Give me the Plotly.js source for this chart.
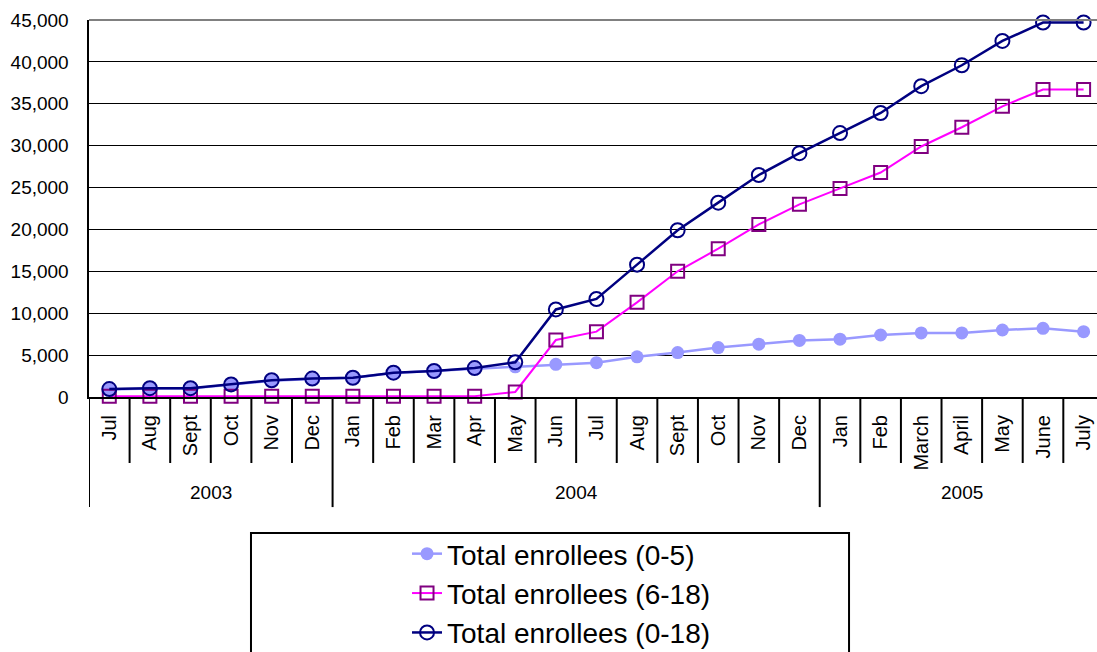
<!DOCTYPE html>
<html>
<head>
<meta charset="utf-8">
<script src="https://cdn.plot.ly/plotly-3.0.1.min.js"></script>
<style>html,body{margin:0;padding:0;background:#fff;}#chart{width:1097px;height:652px;}</style>
</head>
<body>
<div id="chart"></div>
<script>
const months = ['Jul','Aug','Sept','Oct','Nov','Dec','Jan','Feb','Mar','Apr','May','Jun','Jul','Aug','Sept','Oct','Nov','Dec','Jan','Feb','March','April','May','June','July'];
const yearLabels = ['2003','2004','2005'];
const yearCounts = [6, 12, 7];
const seriesNames = ['Total enrollees (0-5)','Total enrollees (6-18)','Total enrollees (0-18)'];
const enrollees0to5 = [900,1000,1000,1450,1950,2150,2300,2850,3100,3400,3600,3900,4100,4800,5300,5900,6300,6750,6900,7400,7650,7650,8000,8200,7800];
const enrollees6to18 = [100,100,100,100,100,100,100,100,100,100,600,6800,7800,11300,15000,17700,20600,23000,24900,26800,29900,32200,34700,36700,36700];
const enrollees0to18 = [950,1050,1050,1500,2000,2200,2300,2900,3100,3450,4150,10450,11700,15800,19900,23200,26500,29100,31500,33900,37100,39600,42500,44700,44700];

const xIdx = months.map((_, i) => i);
const FONT = 'Arial, "Liberation Sans", sans-serif';

const traces = [
  {x: xIdx, y: enrollees0to5, name: seriesNames[0], type: 'scatter', mode: 'lines+markers', cliponaxis: false,
   line: {color: '#9999FF', width: 2.5},
   marker: {symbol: 'circle', size: 13, color: '#9999FF', line: {width: 0}}},
  {x: xIdx, y: enrollees6to18, name: seriesNames[1], type: 'scatter', mode: 'lines+markers', cliponaxis: false,
   line: {color: '#FF00FF', width: 2},
   marker: {symbol: 'square-open', size: 13, color: '#800080', line: {width: 2, color: '#800080'}}},
  {x: xIdx, y: enrollees0to18, name: seriesNames[2], type: 'scatter', mode: 'lines+markers', cliponaxis: false,
   line: {color: '#000080', width: 2.5},
   marker: {symbol: 'circle-open', size: 14, color: '#000080', line: {width: 2, color: '#000080'}}}
];

// divider shapes derived from category structure
const shapes = [];
const yearBoundaries = [-0.5];
yearCounts.reduce((acc, c) => { yearBoundaries.push(acc + c - 0.5); return acc + c; }, 0);
const monthDivBottom = -0.175, yearDivBottom = -0.292;
for (let i = 0; i < months.length - 1; i++) {
  const b = i + 0.5;
  if (yearBoundaries.includes(b)) continue;
  shapes.push({type: 'line', xref: 'x', yref: 'paper', x0: b, x1: b, y0: 0, y1: monthDivBottom, line: {color: '#000', width: 2}});
}
yearBoundaries.forEach(b => {
  shapes.push({type: 'line', xref: 'x', yref: 'paper', x0: b, x1: b, y0: 0, y1: yearDivBottom, line: {color: '#000', width: 2}});
});
// top border line (grey)
shapes.push({type: 'line', xref: 'paper', yref: 'paper', x0: 0, x1: 1, y0: 1, y1: 1, line: {color: '#808080', width: 2}});
// legend box
shapes.push({type: 'rect', xref: 'paper', yref: 'paper', x0: 0.1607, x1: 0.754, y0: -0.3607, y1: -0.72, line: {color: '#000', width: 2}, fillcolor: 'rgba(0,0,0,0)'});

const annotations = [];
let start = 0;
yearLabels.forEach((yl, k) => {
  const center = start + (yearCounts[k] - 1) / 2;
  annotations.push({x: center, y: -0.2546, xref: 'x', yref: 'paper', text: yl, showarrow: false,
    xanchor: 'center', yanchor: 'middle', font: {family: FONT, size: 19, color: '#000'}});
  start += yearCounts[k];
});

const layout = {
  width: 1097, height: 652,
  margin: {l: 89, r: 0, t: 20, b: 255, pad: 0, autoexpand: false},
  paper_bgcolor: '#fff', plot_bgcolor: '#fff',
  font: {family: FONT, color: '#000'},
  showlegend: true,
  legend: {x: 0.3155, xanchor: 'left', y: -0.350, yanchor: 'top', bgcolor: 'rgba(0,0,0,0)', borderwidth: 0,
    font: {family: FONT, size: 28, color: '#000'}, tracegroupgap: 0},
  xaxis: {
    range: [-0.5, 24.33], tickvals: xIdx, ticktext: months, tickangle: -90,
    showgrid: false, zeroline: false, showline: true, linecolor: '#000', linewidth: 2,
    ticks: '', ticklabelstandoff: 8, tickfont: {family: FONT, size: 20, color: '#000'}, fixedrange: true, automargin: false
  },
  yaxis: {
    range: [0, 45000], dtick: 5000, tick0: 0, tickformat: ',d',
    showgrid: true, gridcolor: '#000', gridwidth: 1, zeroline: false,
    showline: true, linecolor: '#000', linewidth: 2.5,
    ticks: '', ticklabelstandoff: 14, tickfont: {family: FONT, size: 19, color: '#000'}, fixedrange: true, automargin: false
  },
  shapes: shapes,
  annotations: annotations
};

Plotly.newPlot('chart', traces, layout, {displayModeBar: false, staticPlot: true});
</script>
</body>
</html>
